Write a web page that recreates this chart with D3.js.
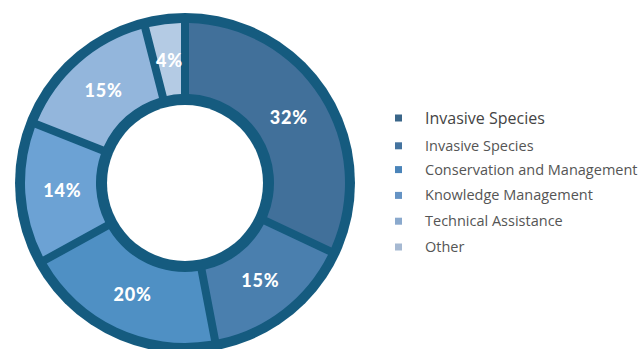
<!DOCTYPE html>
<meta charset="utf-8">
<style>
  body { margin: 0; padding: 0; background: #fff; }
  svg { display: block; }
</style>
<script src="https://d3js.org/d3.v7.min.js"></script>
<svg id="vis"></svg>
<script>

var width = 644, height = 349;

const shares = [32, 15, 20, 14, 15, 4];
const sliceColors = ["#41709a", "#4a7fae", "#4f90c4", "#6ca2d4", "#93b6dc", "#b4cbe4"];
const legendLabels = ["Invasive Species", "Invasive Species", "Conservation and Management", "Knowledge Management", "Technical Assistance", "Other"];
const legendColors = ["#3a6689", "#44739f", "#4a84b9", "#6593c4", "#8aa9cd", "#a6b9d2"];

var svg = d3.select("svg").attr("width", width).attr("height", height);

var cx = 185, cy = 183;
var g = svg.append("g").attr("transform", "translate(" + cx + "," + cy + ")");

// dark ring behind everything
g.append("circle").attr("r", 170).attr("fill", "#155b7f");
g.append("circle").attr("r", 78).attr("fill", "#fff");

var pie = d3.pie().sort(null).value(d => d);
var arc = d3.arc().innerRadius(89).outerRadius(160).padAngle(0.08).padRadius(100);
var labelArc = d3.arc().innerRadius(123).outerRadius(123);

var arcs = pie(shares);

g.selectAll("path.slice")
  .data(arcs)
  .enter().append("path")
  .attr("class", "slice")
  .attr("d", arc)
  .attr("fill", (d, i) => sliceColors[i]);

g.selectAll("text.pct")
  .data(arcs)
  .enter().append("text")
  .attr("class", "pct")
  .attr("transform", d => "translate(" + labelArc.centroid(d) + ")")
  .attr("text-anchor", "middle")
  .attr("dy", "0.36em")
  .attr("fill", "#fff")
  .style("font-family", "Lato, sans-serif")
  .style("font-weight", 900)
  .style("font-size", "18px")
  .style("letter-spacing", "0.8px")
  .text(d => d.data + "%");

// legend
var ly = d3.scalePoint().domain(d3.range(legendLabels.length)).range([118, 247]);
var legend = svg.append("g");
var rows = legend.selectAll("g")
  .data(legendLabels)
  .enter().append("g")
  .attr("transform", (d, i) => "translate(395," + (i == 0 ? 118 : ly(i) + (i == 1 ? 2 : 0)) + ")");

rows.append("rect")
  .attr("x", 0).attr("y", -3.5)
  .attr("width", 7).attr("height", 7)
  .attr("fill", (d, i) => legendColors[i]);

rows.append("text")
  .attr("x", 30)
  .attr("dy", "0.35em")
  .attr("fill", (d, i) => i == 0 ? "#444" : "#555")
  .style("font-family", "'Open Sans', sans-serif")
  .style("font-weight", 400)
  .style("font-size", (d, i) => i == 0 ? "16px" : "14.5px")
  .text(d => d);

</script>
